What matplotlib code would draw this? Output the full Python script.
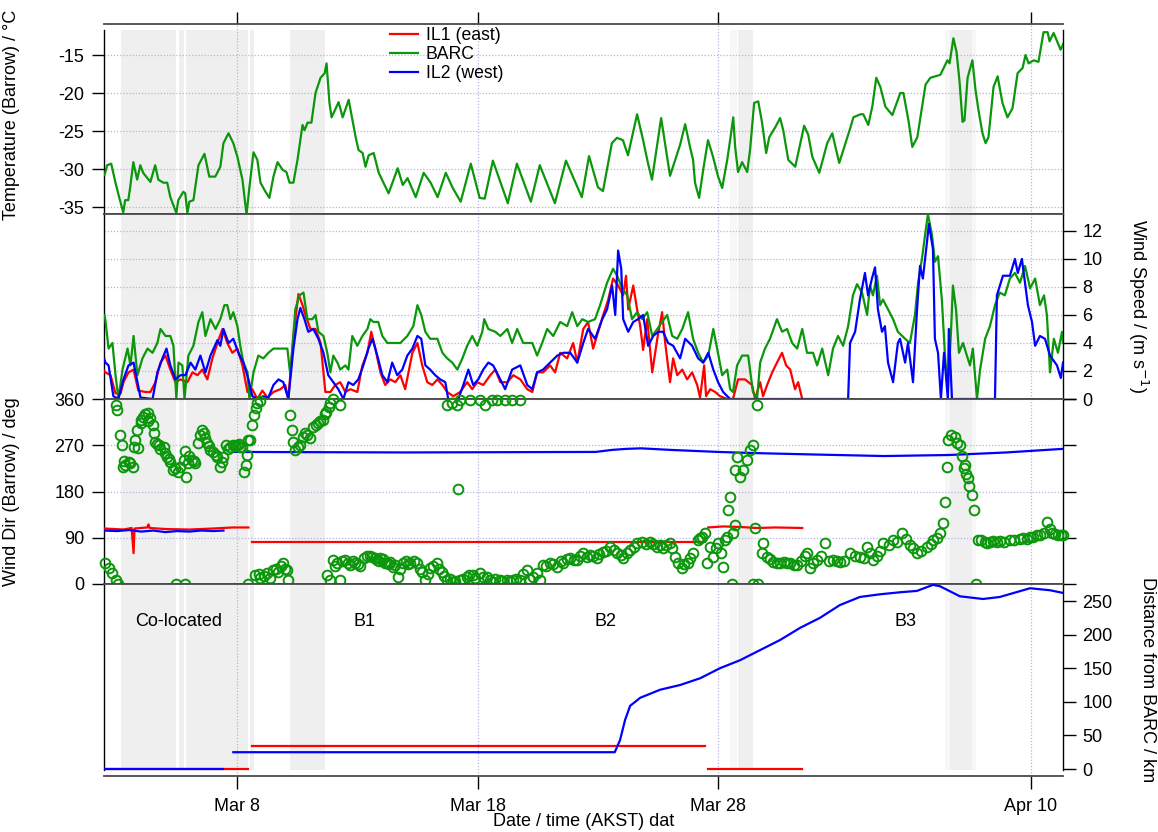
import numpy as np
import matplotlib
matplotlib.use('Agg')
import matplotlib.pyplot as plt
import matplotlib.dates as mdates
from matplotlib.ticker import FuncFormatter

plt.rcParams['font.family'] = ['Liberation Sans', 'DejaVu Sans']
plt.rcParams['axes.unicode_minus'] = False

# time axis: day of March 2012 (Apr 1 = 32)
# ---- temperature at Barrow (BARC) ----
temp_barc = [
    (2.47, -30.8), (2.50, -30.5), (2.58, -29.5), (2.75, -29.3), (2.92, -31.7), (3.08, -33.7),
    (3.25, -35.7), (3.33, -34.1), (3.46, -34.1), (3.54, -32.4), (3.67, -29.1), (3.83, -31.4),
    (3.96, -29.5), (4.08, -30.5), (4.38, -31.7), (4.58, -29.5), (4.71, -31.4), (4.92, -31.8),
    (5.08, -31.8), (5.21, -33.7), (5.46, -35.8), (5.54, -34.1), (5.75, -33.0), (5.83, -33.2),
    (5.92, -35.8), (6.00, -34.3), (6.17, -34.1), (6.38, -29.5), (6.63, -28.0), (6.83, -31.0),
    (7.08, -31.0), (7.29, -29.7), (7.42, -26.6), (7.63, -25.3), (7.83, -26.6), (8.00, -28.4),
    (8.21, -31.4), (8.38, -36.0), (8.50, -32.4), (8.67, -27.8), (8.83, -28.8), (8.96, -31.8),
    (9.17, -33.0), (9.33, -33.8), (9.50, -31.0), (9.67, -29.1), (9.88, -30.1), (10.04, -30.4),
    (10.17, -31.8), (10.33, -31.8), (10.50, -28.8), (10.71, -24.2), (10.79, -24.9), (10.92, -23.9),
    (11.08, -23.9), (11.25, -20.0), (11.46, -18.0), (11.63, -17.4), (11.71, -16.1), (11.83, -21.3),
    (11.92, -23.2), (12.21, -21.2), (12.38, -23.2), (12.63, -20.9), (12.92, -25.8), (13.04, -27.5),
    (13.21, -27.9), (13.33, -29.7), (13.46, -28.2), (13.67, -27.9), (13.88, -30.5), (14.29, -33.2),
    (14.67, -29.9), (14.88, -32.1), (15.08, -31.2), (15.42, -33.7), (15.75, -30.5), (16.04, -31.8),
    (16.33, -33.7), (16.67, -30.5), (16.96, -32.5), (17.29, -34.3), (17.71, -29.3), (18.08, -33.8),
    (18.29, -33.9), (18.63, -28.9), (19.25, -34.5), (19.63, -29.3), (20.21, -34.3), (20.58, -29.5),
    (21.21, -34.5), (21.67, -28.9), (22.33, -33.7), (22.63, -28.3), (23.00, -32.4), (23.21, -32.9),
    (23.58, -26.6), (23.79, -25.9), (24.04, -26.2), (24.25, -28.2), (24.63, -22.8), (24.88, -26.2),
    (25.08, -29.2), (25.25, -31.4), (25.63, -23.3), (26.00, -30.9), (26.42, -26.8), (26.63, -24.1),
    (26.83, -27.1), (26.96, -28.8), (27.04, -31.8), (27.21, -33.8), (27.38, -30.1), (27.58, -26.2),
    (27.79, -28.4), (28.00, -31.0), (28.17, -32.5), (28.38, -28.8), (28.50, -26.2), (28.63, -23.2),
    (28.71, -27.1), (28.83, -30.4), (29.00, -29.1), (29.21, -30.4), (29.33, -27.5), (29.50, -21.3),
    (29.67, -21.1), (29.83, -23.9), (30.00, -27.9), (30.13, -25.8), (30.38, -24.5), (30.58, -23.3),
    (30.71, -24.9), (30.92, -28.8), (31.21, -29.7), (31.58, -24.3), (31.75, -25.5), (31.92, -28.4),
    (32.21, -30.5), (32.54, -26.6), (32.75, -25.3), (33.04, -29.2), (33.50, -24.6), (33.63, -23.2),
    (33.92, -22.8), (34.04, -22.8), (34.25, -24.2), (34.42, -21.7), (34.58, -18.0), (34.75, -19.2),
    (34.96, -21.8), (35.25, -22.9), (35.58, -20.0), (35.71, -20.0), (35.92, -23.6), (36.08, -27.1),
    (36.29, -25.8), (36.63, -18.9), (36.83, -18.0), (37.25, -17.6), (37.54, -15.7), (37.63, -16.1),
    (37.79, -12.8), (37.92, -14.6), (38.04, -18.3), (38.17, -23.8), (38.25, -23.6), (38.38, -18.0),
    (38.58, -15.7), (38.71, -19.6), (38.83, -22.2), (39.00, -25.3), (39.13, -26.6), (39.25, -25.8),
    (39.46, -19.2), (39.63, -17.8), (39.83, -21.3), (40.04, -23.2), (40.25, -22.0), (40.46, -17.4),
    (40.67, -16.7), (40.79, -15.0), (40.92, -16.1), (41.13, -15.7), (41.33, -15.9), (41.54, -12.0),
    (41.71, -12.0), (41.79, -13.2), (41.96, -12.1), (42.25, -14.3), (42.38, -13.4),
]

# ---- wind speed (m/s) ----
ws_barc = [
    (2.47, 6.0), (2.51, 5.6), (2.64, 3.6), (2.80, 4.0), (2.93, 1.7), (3.05, 0.0), (3.22, 2.1),
    (3.43, 3.6), (3.55, 2.4), (3.68, 4.5), (3.84, 1.7), (4.05, 2.9), (4.26, 3.6), (4.47, 3.3),
    (4.67, 4.0), (4.80, 5.0), (5.01, 4.5), (5.21, 4.5), (5.34, 3.8), (5.46, 0.0), (5.55, 2.6),
    (5.71, 2.4), (5.80, 0.0), (5.96, 3.1), (6.17, 3.8), (6.38, 5.5), (6.54, 6.2), (6.67, 4.5),
    (6.88, 5.7), (7.09, 5.0), (7.29, 5.7), (7.46, 6.7), (7.58, 6.7), (7.71, 5.7), (7.83, 6.2),
    (8.00, 5.2), (8.12, 3.8), (8.25, 2.6), (8.42, 1.9), (8.50, 0.0), (8.67, 1.9), (8.87, 3.1),
    (9.08, 2.9), (9.29, 3.3), (9.50, 3.6), (9.79, 3.6), (10.08, 3.6), (10.20, 1.7), (10.41, 6.4),
    (10.58, 7.4), (10.75, 7.6), (10.91, 5.7), (11.12, 5.7), (11.25, 6.0), (11.37, 4.8), (11.58, 4.5),
    (11.74, 3.3), (11.87, 1.9), (11.99, 3.1), (12.16, 2.6), (12.28, 2.1), (12.49, 2.4), (12.62, 2.1),
    (12.78, 4.5), (12.99, 3.8), (13.20, 4.5), (13.41, 5.0), (13.53, 5.7), (13.66, 5.5), (13.86, 5.5),
    (14.03, 4.5), (14.24, 4.0), (14.49, 4.0), (14.78, 4.0), (15.07, 4.5), (15.32, 5.2), (15.49, 6.7),
    (15.65, 6.0), (15.82, 4.8), (16.02, 4.3), (16.32, 4.3), (16.53, 3.3), (16.73, 2.9), (16.94, 2.6),
    (17.15, 2.1), (17.36, 2.9), (17.56, 3.8), (17.77, 4.5), (17.98, 3.8), (18.19, 4.8), (18.27, 5.7),
    (18.44, 5.0), (18.73, 4.8), (18.94, 4.5), (19.23, 5.0), (19.43, 4.0), (19.64, 5.0), (19.89, 4.0),
    (20.27, 4.0), (20.47, 3.1), (20.68, 4.0), (20.89, 5.0), (21.14, 4.5), (21.43, 5.5), (21.72, 5.2),
    (21.93, 6.2), (22.14, 5.2), (22.35, 5.7), (22.59, 5.5), (22.88, 5.7), (23.09, 6.7), (23.38, 8.3),
    (23.63, 9.3), (23.80, 8.8), (24.01, 7.9), (24.22, 7.4), (24.42, 5.7), (24.63, 6.2), (24.84, 5.7),
    (25.05, 6.2), (25.26, 4.5), (25.47, 5.0), (25.67, 5.5), (25.88, 6.0), (26.09, 4.5), (26.30, 4.3),
    (26.51, 5.0), (26.75, 6.2), (26.96, 4.3), (27.17, 3.3), (27.38, 2.6), (27.59, 3.1), (27.80, 5.0),
    (27.96, 3.6), (28.17, 1.7), (28.38, 2.1), (28.50, 0.7), (28.62, 0.5), (28.79, 2.4), (29.00, 3.1),
    (29.25, 3.1), (29.45, 0.5), (29.62, 0.0), (29.75, 2.6), (29.95, 3.6), (30.16, 4.3), (30.45, 5.7),
    (30.66, 4.8), (30.87, 5.0), (31.08, 4.0), (31.29, 3.6), (31.50, 5.0), (31.70, 3.3), (31.95, 3.3),
    (32.12, 2.4), (32.33, 3.6), (32.58, 1.7), (32.78, 3.6), (32.99, 4.5), (33.20, 3.8), (33.41, 5.2),
    (33.61, 7.4), (33.78, 8.2), (33.99, 7.6), (34.20, 6.0), (34.32, 8.1), (34.44, 7.4), (34.61, 8.8),
    (34.74, 6.7), (34.86, 7.1), (35.07, 6.4), (35.28, 5.7), (35.48, 4.8), (35.78, 4.3), (35.98, 4.0),
    (36.19, 6.0), (36.32, 8.3), (36.48, 10.0), (36.61, 11.7), (36.73, 13.2), (36.90, 11.7),
    (37.02, 9.8), (37.15, 10.2), (37.31, 7.1), (37.44, 3.1), (37.56, 0.5), (37.69, 4.8), (37.77, 8.1),
    (37.90, 6.4), (38.02, 3.3), (38.19, 4.0), (38.35, 3.1), (38.48, 2.4), (38.60, 3.6), (38.77, 0.0),
    (38.90, 2.1), (39.11, 4.3), (39.31, 5.2), (39.52, 6.7), (39.72, 7.6), (39.93, 7.4), (40.14, 8.6),
    (40.35, 9.0), (40.56, 8.3), (40.77, 9.5), (40.98, 7.9), (41.19, 8.6), (41.39, 6.7), (41.56, 7.4),
    (41.68, 6.0), (41.81, 1.9), (41.97, 4.3), (42.14, 3.3), (42.31, 4.8), (42.35, 4.0),
]

ws_il2 = [
    (2.47, 2.8), (2.51, 2.6), (2.64, 2.4), (2.84, 0.2), (3.05, 0.0), (3.26, 1.4), (3.47, 2.4),
    (3.68, 2.6), (3.84, 1.2), (3.97, 0.1), (4.47, 0.0), (4.67, 1.9), (4.88, 2.9), (5.05, 3.6),
    (5.21, 2.4), (5.42, 1.4), (5.63, 1.7), (5.84, 1.7), (6.05, 2.6), (6.25, 2.1), (6.46, 3.1),
    (6.67, 1.9), (6.88, 3.1), (7.17, 4.2), (7.29, 3.8), (7.42, 5.0), (7.63, 4.0), (7.83, 4.3),
    (8.04, 3.3), (8.25, 2.6), (8.46, 1.4), (8.62, 0.2), (8.83, 0.0), (9.08, 0.2), (9.29, 0.1),
    (9.50, 1.0), (9.71, 1.4), (9.91, 1.2), (10.12, 0.0), (10.33, 3.6), (10.50, 5.7), (10.62, 6.5),
    (10.79, 5.7), (10.95, 4.8), (11.16, 5.0), (11.37, 4.3), (11.58, 3.3), (11.78, 1.7), (11.99, 1.2),
    (12.20, 0.7), (12.41, 0.0), (12.62, 1.2), (12.82, 1.0), (13.03, 1.4), (13.24, 2.4), (13.45, 3.6),
    (13.62, 4.3), (13.82, 3.1), (14.03, 1.7), (14.24, 1.2), (14.44, 2.6), (14.65, 1.7), (14.86, 2.1),
    (15.07, 3.1), (15.28, 3.6), (15.49, 4.5), (15.65, 4.3), (15.82, 2.4), (16.02, 2.1), (16.23, 1.7),
    (16.44, 1.4), (16.65, 1.2), (16.77, 0.0), (17.19, 0.0), (17.40, 1.0), (17.61, 2.1), (17.81, 1.0),
    (18.02, 1.4), (18.23, 2.1), (18.44, 2.6), (18.64, 2.4), (18.85, 1.7), (19.14, 0.7), (19.43, 2.1),
    (19.77, 2.4), (20.06, 1.0), (20.27, 0.7), (20.47, 1.9), (20.72, 2.1), (21.01, 2.6), (21.31, 3.1),
    (21.56, 3.3), (21.85, 3.3), (22.14, 2.6), (22.39, 4.0), (22.59, 5.0), (22.88, 4.3), (23.18, 5.7),
    (23.38, 6.4), (23.59, 8.1), (23.72, 6.0), (23.84, 10.6), (23.97, 9.3), (24.05, 5.7), (24.26, 4.8),
    (24.47, 5.5), (24.67, 5.7), (24.88, 6.0), (25.09, 3.8), (25.30, 4.5), (25.51, 4.8), (25.71, 4.8),
    (25.92, 4.0), (26.13, 3.8), (26.42, 2.9), (26.63, 4.3), (26.92, 3.8), (27.17, 2.9), (27.38, 2.6),
    (27.59, 3.3), (27.80, 2.1), (28.00, 1.2), (28.21, 0.5), (28.50, 0.0), (33.41, 0.0), (33.49, 4.0),
    (33.70, 4.8), (33.90, 7.1), (34.11, 9.0), (34.24, 7.4), (34.40, 8.6), (34.53, 9.4), (34.65, 6.4),
    (34.82, 4.8), (34.94, 5.2), (35.07, 2.6), (35.28, 1.2), (35.48, 4.0), (35.57, 4.3), (35.78, 2.6),
    (35.90, 4.0), (36.11, 1.2), (36.27, 6.2), (36.40, 9.5), (36.52, 8.6), (36.69, 11.2), (36.77, 12.5),
    (36.94, 10.7), (37.02, 4.3), (37.15, 3.3), (37.27, 0.0), (37.40, 3.3), (37.56, 0.0), (37.60, 5.0),
    (37.73, 0.0), (39.52, 0.0), (39.60, 7.4), (39.85, 8.8), (40.14, 8.8), (40.35, 10.0), (40.47, 9.0),
    (40.64, 10.0), (40.89, 6.7), (41.06, 5.5), (41.19, 3.8), (41.39, 4.5), (41.60, 4.3), (41.81, 3.1),
    (42.10, 2.4), (42.26, 1.5), (42.35, 2.6),
]

ws_il1 = [
    (2.47, 2.0), (2.51, 1.9), (2.72, 1.7), (2.93, 0.4), (3.14, 0.4), (3.26, 1.2), (3.47, 1.9),
    (3.68, 2.1), (3.88, 0.6), (4.17, 0.5), (4.38, 0.5), (4.59, 1.2), (4.80, 2.6), (5.01, 3.1),
    (5.21, 2.1), (5.42, 1.2), (5.63, 1.4), (5.92, 1.2), (6.13, 1.9), (6.34, 1.7), (6.54, 2.1),
    (6.75, 1.4), (6.96, 2.9), (7.17, 4.0), (7.38, 5.0), (7.58, 4.0), (7.79, 3.3), (8.00, 3.6),
    (8.21, 2.4), (8.42, 0.5), (8.62, 0.7), (8.83, 0.0), (9.04, 0.6), (9.25, 0.1), (9.50, 0.5),
    (9.79, 0.7), (9.99, 1.0), (10.12, 0.0), (10.33, 4.5), (10.54, 7.5), (10.71, 6.7), (10.83, 6.0),
    (11.04, 5.0), (11.25, 5.0), (11.46, 4.0), (11.66, 0.5), (11.87, 0.5), (12.07, 1.0), (12.28, 1.2),
    (12.49, 0.5), (12.70, 0.7), (12.99, 0.5), (13.20, 2.4), (13.41, 3.3), (13.57, 4.8), (13.74, 3.6),
    (13.95, 1.9), (14.15, 1.0), (14.36, 1.4), (14.57, 1.2), (14.78, 1.7), (14.98, 0.7), (15.28, 3.3),
    (15.49, 4.0), (15.69, 2.4), (15.90, 1.2), (16.11, 1.0), (16.32, 1.4), (16.53, 1.0), (16.73, 0.5),
    (16.98, 0.2), (17.27, 0.5), (17.56, 1.2), (17.77, 0.7), (17.98, 1.2), (18.23, 1.0), (18.52, 1.7),
    (18.73, 2.1), (18.94, 1.2), (19.23, 1.2), (19.48, 1.7), (19.77, 1.4), (20.06, 0.7), (20.27, 0.5),
    (20.47, 1.9), (20.72, 1.9), (21.01, 2.4), (21.22, 1.9), (21.43, 3.3), (21.72, 2.9), (21.97, 4.0),
    (22.14, 2.6), (22.39, 5.0), (22.59, 5.5), (22.80, 3.6), (23.01, 4.8), (23.22, 6.0), (23.43, 7.1),
    (23.63, 8.6), (23.84, 8.1), (24.05, 7.4), (24.17, 8.8), (24.26, 6.4), (24.47, 8.1), (24.63, 6.4),
    (24.76, 5.2), (24.88, 3.5), (25.05, 5.7), (25.26, 1.9), (25.47, 4.3), (25.67, 6.2), (25.80, 4.0),
    (26.00, 1.2), (26.13, 2.9), (26.30, 1.7), (26.51, 2.1), (26.71, 1.4), (26.92, 1.9), (27.13, 1.0),
    (27.25, 0.1), (27.42, 2.4), (27.50, 0.2), (27.67, 0.7), (27.88, 0.5), (28.08, 0.2), (28.38, 0.0),
    (28.62, 0.0), (28.83, 1.4), (29.12, 1.4), (29.41, 1.0), (29.54, 0.0), (29.75, 1.2), (29.87, 0.2),
    (30.04, 1.0), (30.25, 1.9), (30.45, 2.6), (30.66, 3.3), (30.83, 2.4), (31.00, 2.1), (31.20, 0.7),
    (31.33, 1.2), (31.50, 0.0),
]

# ---- wind direction at Barrow (deg) ----
wd_barc = [
    (2.51, 41), (2.64, 31), (2.80, 21), (2.93, 8), (3.05, 0), (2.93, 348), (3.01, 339), (3.10, 290),
    (3.18, 270), (3.22, 228), (3.30, 240), (3.34, 232), (3.47, 237), (3.55, 236), (3.64, 228),
    (3.68, 267), (3.76, 280), (3.84, 300), (3.88, 265), (3.97, 313), (4.00, 320), (4.09, 325),
    (4.15, 330), (4.26, 333), (4.30, 318), (4.38, 323), (4.47, 309), (4.51, 294), (4.59, 276),
    (4.65, 272), (4.72, 270), (4.80, 262), (4.93, 267), (5.00, 255), (5.09, 247), (5.15, 244),
    (5.21, 237), (5.34, 222), (5.40, 226), (5.46, 0), (5.51, 218), (5.63, 228), (5.76, 241),
    (5.84, 0), (5.84, 259), (5.88, 208), (5.96, 235), (6.00, 250), (6.13, 241), (6.20, 240),
    (6.25, 235), (6.38, 274), (6.45, 290), (6.54, 300), (6.59, 294), (6.65, 285), (6.75, 274),
    (6.80, 268), (6.88, 261), (7.00, 257), (7.10, 252), (7.17, 247), (7.29, 228), (7.35, 238),
    (7.42, 247), (7.54, 270), (7.60, 262), (7.71, 267), (7.83, 270), (7.90, 268), (8.00, 270),
    (8.05, 272), (8.12, 267), (8.21, 267), (8.29, 218), (8.37, 232), (8.42, 251), (8.46, 280),
    (8.46, 0), (8.54, 280), (8.62, 309), (8.71, 329), (8.75, 18), (8.79, 342), (8.83, 352),
    (8.88, 20), (8.95, 356), (8.95, 12), (9.10, 15), (9.25, 21), (9.37, 12), (9.50, 27), (9.60, 30),
    (9.71, 23), (9.80, 35), (9.91, 41), (10.00, 30), (10.08, 27), (10.12, 8), (10.20, 329),
    (10.29, 300), (10.33, 276), (10.41, 261), (10.54, 267), (10.60, 270), (10.71, 286), (10.83, 294),
    (10.90, 290), (11.04, 284), (11.16, 306), (11.25, 310), (11.37, 313), (11.45, 318), (11.58, 319),
    (11.65, 330), (11.70, 335), (11.74, 18), (11.80, 345), (11.87, 352), (11.87, 8), (11.99, 360),
    (11.99, 47), (12.05, 35), (12.16, 41), (12.28, 348), (12.28, 8), (12.35, 45), (12.49, 47),
    (12.60, 40), (12.70, 37), (12.80, 45), (12.91, 41), (13.00, 38), (13.12, 35), (13.25, 50),
    (13.41, 55), (13.53, 55), (13.60, 52), (13.74, 51), (13.82, 47), (13.90, 45), (13.95, 50),
    (14.05, 48), (14.15, 41), (14.24, 41), (14.30, 38), (14.36, 43), (14.49, 33), (14.57, 37),
    (14.69, 14), (14.75, 30), (14.90, 41), (15.00, 45), (15.10, 38), (15.19, 41), (15.35, 45),
    (15.49, 41), (15.60, 30), (15.69, 23), (15.82, 8), (15.95, 20), (16.02, 31), (16.15, 35),
    (16.32, 41), (16.40, 30), (16.53, 23), (16.60, 15), (16.73, 8), (16.73, 348), (16.85, 10),
    (16.94, 352), (16.98, 4), (17.05, 6), (17.15, 348), (17.19, 185), (17.27, 358), (17.27, 8),
    (17.40, 10), (17.56, 14), (17.65, 18), (17.69, 358), (17.81, 18), (17.90, 12), (18.10, 358),
    (18.10, 21), (18.20, 14), (18.31, 348), (18.39, 14), (18.50, 8), (18.60, 358), (18.64, 4),
    (18.70, 10), (18.81, 358), (18.94, 8), (19.00, 6), (19.14, 358), (19.23, 8), (19.35, 5),
    (19.43, 358), (19.48, 8), (19.60, 10), (19.77, 358), (19.77, 8), (19.90, 20), (20.06, 27),
    (20.15, 10), (20.31, 14), (20.45, 22), (20.60, 8), (20.72, 37), (20.85, 35), (21.01, 41),
    (21.15, 38), (21.31, 33), (21.45, 45), (21.56, 41), (21.70, 48), (21.85, 51), (22.00, 47),
    (22.14, 47), (22.25, 55), (22.39, 60), (22.55, 52), (22.68, 56), (22.80, 55), (22.97, 51),
    (23.05, 58), (23.22, 62), (23.35, 65), (23.51, 72), (23.65, 66), (23.80, 60), (23.95, 56),
    (24.05, 51), (24.20, 60), (24.34, 66), (24.50, 72), (24.63, 80), (24.84, 82), (25.00, 78),
    (25.17, 82), (25.30, 78), (25.47, 72), (25.60, 75), (25.71, 70), (25.85, 76), (26.00, 80),
    (26.10, 70), (26.21, 53), (26.35, 40), (26.51, 31), (26.60, 38), (26.75, 41), (26.85, 50),
    (26.96, 60), (27.17, 86), (27.25, 90), (27.35, 92), (27.46, 99), (27.55, 41), (27.67, 72),
    (27.80, 53), (27.90, 70), (28.00, 80), (28.10, 60), (28.21, 33), (28.30, 85), (28.38, 91),
    (28.42, 144), (28.50, 169), (28.58, 0), (28.62, 99), (28.71, 222), (28.71, 115), (28.79, 247),
    (28.92, 208), (29.04, 222), (29.21, 241), (29.33, 261), (29.45, 270), (29.45, 0), (29.54, 109),
    (29.62, 348), (29.66, 0), (29.83, 60), (29.87, 80), (30.04, 53), (30.15, 48), (30.29, 43),
    (30.45, 40), (30.58, 41), (30.75, 42), (30.87, 41), (31.00, 40), (31.15, 37), (31.29, 37),
    (31.45, 45), (31.60, 55), (31.70, 60), (31.82, 31), (31.95, 40), (32.12, 47), (32.30, 55),
    (32.45, 80), (32.60, 45), (32.78, 47), (32.95, 45), (33.07, 43), (33.25, 45), (33.49, 60),
    (33.70, 55), (33.90, 53), (34.05, 50), (34.20, 72), (34.30, 60), (34.44, 47), (34.60, 55),
    (34.75, 65), (34.86, 80), (35.10, 75), (35.28, 86), (35.45, 82), (35.65, 99), (35.80, 88),
    (35.98, 76), (36.10, 70), (36.27, 60), (36.45, 65), (36.69, 72), (36.85, 78), (36.94, 86),
    (37.10, 90), (37.23, 99), (37.36, 119), (37.44, 160), (37.52, 228), (37.56, 280), (37.70, 290),
    (37.86, 286), (37.95, 275), (38.06, 270), (38.15, 250), (38.22, 225), (38.27, 232), (38.32, 215),
    (38.40, 206), (38.45, 190), (38.56, 173), (38.65, 144), (38.73, 0), (38.81, 86), (38.95, 85),
    (39.11, 82), (39.20, 80), (39.31, 82), (39.45, 84), (39.60, 82), (39.72, 84), (39.90, 82),
    (40.14, 86), (40.30, 85), (40.56, 88), (40.70, 90), (40.85, 88), (40.98, 91), (41.10, 92),
    (41.25, 95), (41.39, 95), (41.55, 100), (41.68, 121), (41.80, 108), (41.89, 100), (42.00, 98),
    (42.14, 95), (42.25, 96), (42.35, 95),
]

wd_il1 = [
    [(2.47, 108), (3.26, 106), (3.60, 109), (3.68, 60), (3.72, 108), (4.25, 110), (4.30, 116),
     (4.35, 109), (5.00, 107), (6.00, 106), (7.00, 108), (7.80, 110), (8.46, 110)],
    [(8.62, 82), (27.46, 82)],
    [(27.59, 110), (28.20, 112), (28.90, 111), (29.60, 109), (30.40, 110), (31.50, 109)],
]
wd_il2 = [
    [(2.47, 104), (3.00, 103), (3.50, 105), (4.00, 102), (4.50, 104), (5.00, 101), (5.50, 103),
     (6.00, 102), (6.50, 104), (7.00, 103), (7.42, 104)],
    [(7.83, 257), (15.00, 256), (22.90, 257), (23.60, 261), (24.20, 263), (24.80, 264), (26.00, 261),
     (28.00, 257), (29.30, 255), (32.00, 252), (34.90, 249), (37.60, 251), (40.00, 256), (42.35, 263)],
]

# ---- distance from BARC (km) ----
dist_il1 = [
    [(2.47, 0), (8.46, 0)],
    [(8.62, 34), (27.46, 34)],
    [(27.59, 0), (31.50, 0)],
]
dist_il2 = [
    [(2.47, 0), (7.42, 0)],
    [(7.83, 25), (23.70, 25), (23.92, 43), (24.13, 73), (24.34, 94), (24.76, 106), (25.59, 118),
     (26.42, 125), (27.25, 135), (28.08, 150), (28.92, 162), (29.75, 177), (30.58, 192), (31.41, 210),
     (32.24, 225), (33.07, 244), (33.90, 256), (34.74, 260), (35.57, 263), (36.27, 265), (36.94, 274),
     (37.23, 272), (38.06, 257), (39.02, 253), (39.72, 256), (40.98, 269), (41.81, 266), (42.35, 262)],
]

shade_spans = [(3.14, 5.46), (5.55, 5.76), (5.88, 8.46), (8.54, 8.71), (10.20, 11.66),
               (28.83, 29.45), (37.65, 38.56)]
light_spans = [(28.50, 28.79), (37.44, 37.65), (38.56, 38.73)]

period_labels = ['Co-located', 'B1', 'B2', 'B3']
period_days = [5.55, 13.28, 23.30, 35.78]

tick_days = [8, 18, 28, 41]
x_range = (2.45, 42.35)

RED, GREEN, BLUE = '#ff0000', '#0b960b', '#0000ff'
GRID = '#b4b4e2'
FS = 13
day0 = mdates.date2num(np.datetime64('2012-03-01'))


def tnum(days):
    return day0 + np.asarray(days, dtype=float) - 1


def xy(pairs):
    a = np.array(pairs, dtype=float)
    return tnum(a[:, 0]), a[:, 1]


fig = plt.figure(figsize=(11.58, 8.32), dpi=100)
L, W = 104 / 1158, 959 / 1158


def rect(top, bot):
    return [L, 1 - bot / 832, W, (bot - top) / 832]


ax1 = fig.add_axes(rect(24, 214))
ax2 = fig.add_axes(rect(214, 399), sharex=ax1)
ax3 = fig.add_axes(rect(399, 584), sharex=ax1)
ax4 = fig.add_axes(rect(584, 776), sharex=ax1)
axes = [ax1, ax2, ax3, ax4]

ax1.set_ylim(-35.92, -10.92)
ax2.set_ylim(0, 13.21)
ax3.set_ylim(0, 360)
ax4.set_ylim(-10.4, 275.3)
ax1.set_xlim(tnum(x_range))

# shaded periods
for ax in axes:
    ymin, ymax = 0, 1
    if ax is ax1:
        ymax = 184 / 190
    if ax is ax4:
        ymin = 6 / 192
    for a, b in shade_spans:
        ax.axvspan(tnum(a), tnum(b), ymin=ymin, ymax=ymax, color='#efefef', lw=0, zorder=0)
    for a, b in light_spans:
        ax.axvspan(tnum(a), tnum(b), ymin=ymin, ymax=ymax, color='#f7f7f7', lw=0, zorder=0)

# temperature
t, v = xy(temp_barc)
ax1.plot(t, v, color=GREEN, lw=1.6, zorder=3)

# wind speed
t, v = xy(ws_il1)
h_red, = ax2.plot(t, v, color=RED, lw=1.6, zorder=3)
t, v = xy(ws_barc)
h_green, = ax2.plot(t, v, color=GREEN, lw=1.6, zorder=4)
t, v = xy(ws_il2)
h_blue, = ax2.plot(t, v, color=BLUE, lw=1.6, zorder=5)

# wind direction
for seg in wd_il1:
    t, v = xy(seg)
    ax3.plot(t, v, color=RED, lw=1.6, zorder=3)
for seg in wd_il2:
    t, v = xy(seg)
    ax3.plot(t, v, color=BLUE, lw=1.6, zorder=3)
t, v = xy(wd_barc)
ax3.plot(t, v, ls='none', marker='o', ms=7, mfc='none', mec=GREEN, mew=1.4,
         zorder=6, clip_on=False)

# distance
for seg in dist_il1:
    t, v = xy(seg)
    ax4.plot(t, v, color=RED, lw=1.6, zorder=3)
for seg in dist_il2:
    t, v = xy(seg)
    ax4.plot(t, v, color=BLUE, lw=1.6, zorder=4)
for lab, d in zip(period_labels, period_days):
    ax4.text(tnum(d), 220, lab, ha='center', va='center', fontsize=FS)

# axes styling
for ax in axes:
    for s in ['left', 'right']:
        ax.spines[s].set_color('black')
        ax.spines[s].set_linewidth(1.0)
    for s in ['top', 'bottom']:
        ax.spines[s].set_color('#4a4a4a')
        ax.spines[s].set_linewidth(1.3)
    ax.grid(axis='x', color=GRID, ls=(0, (1, 1.5)), lw=0.9)
    ax.tick_params(axis='x', which='both', bottom=False, top=False, labelbottom=False)
    ax.tick_params(axis='y', direction='out', length=9, width=1, labelsize=FS, pad=5)
    ax.set_axisbelow(True)

for s in ['left', 'right']:
    ax1.spines[s].set_bounds(-35.92, -11.7)
    ax4.spines[s].set_bounds(-1.5, 275.3)

ax1.set_yticks([-35, -30, -25, -20, -15])
ax1.grid(axis='y', color=GRID, ls=(0, (1, 1.5)), lw=0.9)
ax1.tick_params(axis='x', top=True, direction='out', length=9, width=1)
ax1.set_ylabel('Temperature (Barrow) / °C', fontsize=FS)
ax1.yaxis.set_label_coords(-0.0876, 0.52)

ax2.yaxis.tick_right()
ax2.set_yticks([0, 2, 4, 6, 8, 10, 12])
ax2.grid(axis='y', color=GRID, ls=(0, (1, 1.5)), lw=0.9)
ax2.yaxis.set_label_position('right')
ax2.set_ylabel('Wind Speed / (m s$^{-1}$)', fontsize=FS, rotation=270, va='center')
ax2.yaxis.set_label_coords(1.078, 0.5)

ax3.set_yticks([0, 90, 180, 270, 360])
ax3.tick_params(axis='y', right=True)
ax3.grid(axis='y', color=GRID, ls=(0, (1, 1.5)), lw=0.9)
ax3.set_ylabel('Wind Dir (Barrow) / deg', fontsize=FS)
ax3.yaxis.set_label_coords(-0.0876, 0.5)

ax4.yaxis.tick_right()
ax4.set_yticks([0, 50, 100, 150, 200, 250])
ax4.yaxis.set_label_position('right')
ax4.set_ylabel('Distance from BARC / km', fontsize=FS, rotation=270, va='center')
ax4.yaxis.set_label_coords(1.088, 0.5)

ax4.set_xticks(tnum(tick_days))
ax4.xaxis.set_major_formatter(FuncFormatter(
    lambda x, pos: '{0:%b} {0.day}'.format(mdates.num2date(x))))
ax4.tick_params(axis='x', bottom=True, labelbottom=True, direction='out',
                length=9, width=1, labelsize=FS, pad=7)
ax4.set_xlabel('Date / time (AKST) dat', fontsize=FS)
ax4.xaxis.set_label_coords(0.5, -0.195)

ax1.legend([h_red, h_green, h_blue], ['IL1 (east)', 'BARC', 'IL2 (west)'],
           loc='upper left', bbox_to_anchor=(0.298, 0.985), frameon=False,
           fontsize=12.7, handlelength=1.6, handletextpad=0.45, labelspacing=0.12,
           borderpad=0, borderaxespad=0)

fig.savefig('out.png', dpi=100)
